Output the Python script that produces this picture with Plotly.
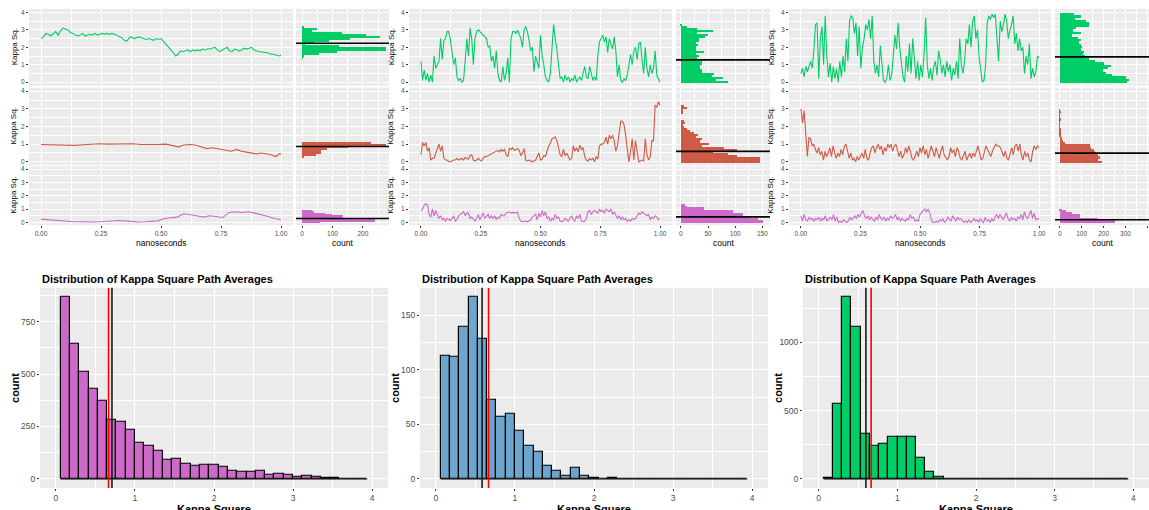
import numpy as np
import plotly.graph_objects as go

W, H = 1149, 510

# ------------------------------------------------------------------ data
# time series (kappa^2 along three paths, per column), evenly sampled over 0..1 ns
c1_green = [2.5, 2.6, 2.8, 2.75, 2.65, 2.8, 2.9, 2.7, 2.95, 3.1, 3.05, 3.0, 2.85, 2.8, 2.7, 2.65, 2.7, 2.8, 2.65, 2.7,
            2.75, 2.7, 2.8, 2.7, 2.75, 2.8, 2.75, 2.8, 2.75, 2.8, 2.75, 2.7, 2.6, 2.55, 2.4, 2.35, 2.55, 2.6, 2.5, 2.55,
            2.6, 2.55, 2.5, 2.45, 2.5, 2.45, 2.4, 2.5, 2.45, 2.5, 2.35, 2.15, 2.0, 1.9, 1.7, 1.5, 1.6, 1.8, 1.75, 1.8,
            1.85, 1.75, 1.85, 1.8, 1.85, 1.8, 1.9, 1.85, 1.9, 1.9, 1.95, 2.0, 1.85, 1.75, 1.85, 1.95, 2.0, 1.8, 1.75, 1.9,
            1.85, 1.8, 1.85, 1.95, 1.9, 1.95, 2.0, 1.85, 1.8, 1.75, 1.75, 1.7, 1.7, 1.65, 1.6, 1.6, 1.55, 1.5, 1.55]
c1_red_t = [0.0, 0.038, 0.073, 0.107, 0.141, 0.176, 0.21, 0.245, 0.279, 0.313, 0.348, 0.382, 0.416, 0.451, 0.485,
            0.519, 0.554, 0.574, 0.595, 0.622, 0.643, 0.67, 0.691, 0.712, 0.732, 0.753, 0.773, 0.794, 0.815, 0.835,
            0.856, 0.876, 0.897, 0.918, 0.938, 0.959, 0.979, 0.993, 1.0]
c1_red = [0.98, 0.97, 0.95, 0.98, 0.93, 0.97, 1.0, 1.02, 1.0, 1.02, 1.0, 1.02, 0.98, 0.97, 0.98, 1.0, 0.9, 0.85, 0.95,
          0.98, 0.95, 0.85, 0.75, 0.8, 0.75, 0.7, 0.65, 0.6, 0.7, 0.6, 0.55, 0.5, 0.45, 0.5, 0.45, 0.4, 0.3, 0.45, 0.45]
c1_magenta = [0.25, 0.2, 0.15, 0.1, 0.08, 0.05, 0.05, 0.03, 0.03, 0.05, 0.08, 0.15, 0.15, 0.12, 0.05, 0.03, 0.05, 0.1,
              0.12, 0.3, 0.35, 0.4, 0.65, 0.6, 0.5, 0.4, 0.5, 0.45, 0.35, 0.75, 0.8, 0.75, 0.8, 0.7, 0.6, 0.45, 0.3, 0.2]

c2_green = [1.2, 0.1, 0.7, 0.1, 0.5, 0.0, 0.4, 0.0, 1.5, 0.8, 1.0, 1.2, 2.5, 1.3, 2.4, 2.5, 2.9, 2.9, 2.4, 1.5, 1.0,
            1.4, 0.3, 0.1, 0.2, 0.0, 0.1, 1.2, 2.5, 1.5, 3.1, 2.5, 1.0, 2.5, 2.9, 3.0, 2.9, 2.8, 2.7, 2.6, 2.5, 2.0,
            2.1, 1.2, 1.5, 0.8, 1.8, 0.5, 0.1, 0.0, 0.9, 0.1, 0.5, 1.4, 0.0, 2.5, 2.9, 2.9, 2.8, 3.0, 2.8, 2.5, 2.0,
            3.0, 3.2, 2.9, 2.4, 1.8, 2.0, 0.6, 1.5, 1.2, 0.8, 2.7, 1.5, 1.0, 0.3, 0.1, 0.0, 0.5, 2.0, 3.3, 2.5, 1.9,
            1.0, 0.2, 0.3, 0.0, 0.4, 0.1, 0.3, 0.0, 0.2, 0.1, 0.4, 0.0, 0.2, 0.3, 0.1, 0.6, 0.9, 0.3, 0.2, 0.9, 0.4,
            0.1, 0.3, 0.1, 1.5, 2.3, 2.5, 2.7, 2.3, 2.6, 1.7, 2.5, 2.2, 1.9, 2.6, 1.8, 0.3, 1.0, 0.1, 0.0, 0.2, 0.1,
            0.4, 1.0, 1.6, 1.0, 1.8, 2.0, 1.3, 2.2, 2.3, 1.3, 0.5, 2.0, 0.8, 0.3, 1.0, 0.5, 0.8, 1.8, 0.4, 0.2, 0.0]
c2_red = [0.4, 1.1, 0.9, 1.1, 0.6, 0.8, 0.1, 0.2, 0.2, 0.5, 0.7, 1.0, 0.6, 0.9, 0.2, 0.1, 0.1, 0.0, 0.0, 0.05, 0.1,
          0.1, 0.2, 0.1, 0.15, 0.2, 0.1, 0.25, 0.2, 0.15, 0.35, 0.4, 0.1, 0.05, 0.1, 0.2, 0.1, 0.05, 0.2, 0.3, 0.3,
          0.35, 0.4, 0.45, 0.5, 0.55, 0.6, 0.65, 0.55, 0.7, 0.6, 0.7, 0.4, 0.3, 0.75, 0.7, 0.8, 0.65, 0.7, 0.75, 0.65,
          0.35, 0.5, 0.75, 0.1, 0.05, 0.1, 0.05, 0.0, 0.05, 0.1, 0.3, 0.5, 0.1, 0.15, 0.35, 0.3, 0.6, 0.9, 1.05, 1.3,
          1.35, 1.4, 1.2, 0.8, 0.4, 0.3, 0.7, 0.35, 0.5, 0.3, 0.1, 0.2, 0.9, 0.6, 0.8, 0.55, 0.95, 0.7, 0.8, 0.3, 0.1,
          0.05, 0.2, 0.1, 0.2, 0.0, 0.3, 0.15, 0.9, 1.0, 1.0, 1.1, 1.4, 1.0, 1.5, 1.3, 1.5, 1.2, 0.6, 0.9, 1.8, 2.3,
          2.3, 2.1, 1.5, 0.6, 0.0, 0.6, 1.3, 0.1, 1.2, 0.6, 0.0, 0.05, 0.1, 0.05, 1.3, 0.4, 0.1, 0.3, 1.2, 1.2, 3.2,
          3.1, 3.4, 3.2]
c2_magenta = [0.9, 1.0, 1.3, 1.4, 1.3, 0.6, 0.4, 1.0, 0.5, 0.9, 0.6, 0.3, 0.5, 0.2, 0.3, 0.1, 0.3, 0.2, 0.15, 0.3,
              0.5, 0.1, 0.2, 0.5, 0.6, 0.7, 0.8, 0.5, 0.7, 0.7, 0.3, 0.4, 0.2, 0.1, 0.3, 0.6, 0.2, 0.5, 0.7, 0.3, 0.5,
              0.6, 0.3, 0.5, 0.3, 0.5, 0.2, 0.4, 0.3, 0.6, 0.5, 0.5, 0.7, 0.75, 0.8, 0.7, 0.75, 0.7, 0.7, 0.75, 0.3,
              0.1, 0.05, 0.1, 0.1, 0.05, 0.1, 0.2, 0.4, 0.5, 0.6, 0.2, 0.7, 0.4, 0.9, 0.5, 0.8, 0.3, 0.4, 0.1, 0.3,
              0.2, 0.6, 0.3, 0.4, 0.1, 0.05, 0.1, 0.3, 0.2, 0.1, 0.3, 0.5, 0.2, 0.1, 0.5, 0.3, 0.6, 0.1, 0.05, 0.1,
              0.3, 0.8, 0.9, 0.6, 0.8, 0.9, 0.8, 0.7, 1.0, 0.8, 0.9, 0.7, 1.0, 0.9, 0.8, 1.0, 0.6, 0.8, 0.5, 0.3, 0.5,
              0.2, 0.4, 0.2, 0.3, 0.1, 0.2, 0.1, 0.3, 0.2, 0.3, 0.5, 0.7, 0.6, 0.8, 0.7, 0.6, 0.5, 0.6, 0.2, 0.4, 0.3,
              0.5, 0.4, 0.2, 0.3]

c3_green = [0.5, 0.8, 0.3, 0.9, 0.6, 0.9, 1.2, 0.8, 1.8, 3.3, 3.4, 0.2, 2.5, 3.2, 1.0, 3.8, 1.5, 0.3, 1.1, 0.0, 0.9,
            0.2, 0.8, 0.0, 1.2, 0.3, 1.5, 0.6, 2.5, 1.2, 3.5, 3.8, 3.7, 2.8, 3.4, 1.5, 3.2, 0.8, 2.0, 2.5, 3.3, 3.0,
            3.6, 2.5, 3.8, 1.2, 0.5, 1.0, 0.3, 2.1, 0.8, 0.1, 0.0, 0.2, 1.0, 0.1, 0.4, 1.5, 2.7, 1.9, 3.4, 2.0, 1.0,
            0.3, 0.0, 1.5, 0.6, 2.2, 0.5, 2.5, 1.4, 0.2, 1.2, 0.1, 1.0, 0.3, 1.6, 3.7, 1.0, 0.2, 0.8, 0.1, 0.9, 1.2,
            0.4, 1.8, 1.3, 0.5, 1.0, 0.3, 1.2, 0.6, 1.0, 0.1, 0.8, 0.4, 1.2, 0.2, 2.5, 1.0, 0.5, 1.2, 2.5, 2.2, 3.3,
            2.0, 3.5, 3.8, 2.5, 3.0, 1.4, 0.8, 0.0, 0.1, 1.0, 3.4, 3.8, 3.6, 3.9, 3.7, 3.9, 2.5, 1.2, 3.5, 2.9, 3.3,
            3.9, 3.5, 2.5, 3.0, 3.3, 3.8, 2.2, 2.8, 1.8, 2.5, 1.8, 2.0, 0.5, 1.5, 1.0, 2.2, 0.2, 0.8, 0.3, 0.6, 1.5,
            1.4]
c3_red = [3.0, 2.2, 2.9, 1.5, 0.3, 1.4, 1.3, 0.9, 1.0, 0.7, 0.5, 0.8, 0.4, 0.6, 0.1, 0.6, 0.3, 0.5, 0.8, 0.3, 0.9,
          0.5, 0.2, 0.5, 0.3, 0.7, 0.4, 0.9, 1.0, 0.6, 0.2, 0.5, 0.1, 0.2, 0.0, 0.3, 0.1, 0.3, 0.5, 0.2, 0.7, 0.2,
          0.1, 0.5, 0.8, 0.9, 0.5, 0.8, 1.0, 0.7, 0.9, 0.4, 0.8, 0.6, 1.0, 0.8, 1.0, 0.6, 0.9, 1.0, 0.7, 0.3, 0.6,
          0.2, 0.4, 0.8, 0.5, 0.9, 0.6, 0.2, 0.1, 0.3, 0.6, 0.3, 0.8, 0.5, 0.9, 0.4, 0.7, 0.2, 0.6, 0.9, 0.6, 0.3,
          0.8, 0.5, 0.2, 0.6, 0.9, 0.4, 0.2, 0.1, 0.3, 0.8, 0.5, 0.7, 0.3, 0.8, 0.6, 0.2, 0.1, 0.3, 0.6, 0.1, 0.3,
          0.5, 0.2, 0.5, 0.3, 0.6, 0.9, 0.5, 0.1, 0.2, 0.6, 0.9, 0.7, 0.5, 0.3, 0.6, 0.8, 1.0, 0.9, 0.9, 0.8, 0.5,
          0.3, 0.6, 0.2, 0.1, 0.5, 0.8, 0.4, 0.9, 1.0, 0.6, 1.0, 0.4, 0.1, 0.6, 0.3, 0.5, 0.1, 0.0, 0.6, 0.9, 0.7,
          0.9, 0.8]
c3_magenta = [0.5, 0.1, 0.6, 0.2, 0.1, 0.4, 0.2, 0.3, 0.1, 0.3, 0.2, 0.4, 0.1, 0.3, 0.2, 0.5, 0.1, 0.3, 0.4, 0.2,
              0.6, 0.1, 0.4, 0.0, 0.1, 0.0, 0.2, 0.1, 0.0, 0.1, 0.4, 0.2, 0.3, 0.5, 0.3, 0.6, 0.4, 0.7, 0.9, 0.5,
              0.3, 0.5, 0.2, 0.4, 0.2, 0.1, 0.4, 0.2, 0.6, 0.3, 0.2, 0.4, 0.1, 0.3, 0.2, 0.5, 0.3, 0.4, 0.6, 0.2,
              0.4, 0.1, 0.3, 0.2, 0.1, 0.3, 0.2, 0.6, 0.3, 0.4, 0.1, 0.2, 0.1, 0.6, 0.8, 0.9, 1.0, 0.8, 1.0, 0.7,
              0.2, 0.0, 0.0, 0.1, 0.0, 0.2, 0.1, 0.3, 0.0, 0.1, 0.4, 0.2, 0.1, 0.5, 0.3, 0.1, 0.4, 0.2, 0.3, 0.1,
              0.0, 0.1, 0.0, 0.2, 0.0, 0.1, 0.3, 0.1, 0.2, 0.0, 0.3, 0.1, 0.0, 0.4, 0.1, 0.2, 0.0, 0.3, 0.1, 0.4,
              0.6, 0.3, 0.6, 0.4, 0.2, 0.5, 0.7, 0.3, 0.1, 0.4, 0.2, 0.3, 0.1, 0.4, 0.3, 0.6, 0.2, 0.8, 0.4, 0.3,
              0.6, 0.9, 0.3, 0.7, 0.2, 0.3, 0.2]

# marginal histograms: 30 shared bins per column, centres from lo to hi (bottom -> top)
marg_bin_lo = [0.0, 0.0, 0.0]
marg_bin_hi = [3.16, 3.4, 3.9]
c1_green_counts = [0, 0, 0, 0, 0, 0, 0, 0, 0, 0, 0, 0, 0, 3, 7, 57, 115, 276, 276, 120,
                   10, 40, 88, 158, 255, 210, 130, 34, 48, 7]
c1_red_counts = [0, 0, 0, 7, 45, 63, 61, 82, 150, 275, 227, 0, 0, 0, 0, 0, 0, 0, 0, 0,
                 0, 0, 0, 0, 0, 0, 0, 0, 0, 0]
c1_magenta_counts = [60, 240, 240, 130, 136, 100, 77, 40, 34, 0, 0, 0, 0, 0, 0, 0, 0, 0, 0, 0,
                     0, 0, 0, 0, 0, 0, 0, 0, 0, 0]
c2_green_counts = [86, 64, 77, 58, 61, 39, 38, 36, 36, 38, 38, 30, 30, 33, 27, 42, 27, 28, 32, 28,
                   33, 34, 44, 50, 30, 60, 30, 11, 2, 0]
c2_red_counts = [145, 145, 145, 104, 86, 60, 104, 80, 39, 52, 36, 38, 27, 31, 24, 17, 11, 5, 4, 8,
                 5, 0, 0, 0, 4, 4, 11, 5, 0, 0]
c2_magenta_counts = [151, 151, 142, 125, 114, 114, 95, 95, 42, 42, 11, 8, 0, 0, 0, 0, 0, 0, 0, 0,
                     0, 0, 0, 0, 0, 0, 0, 0, 0, 0]
c3_green_counts = [308, 317, 300, 240, 210, 197, 220, 235, 200, 160, 135, 115, 105, 110, 95, 100, 95, 89, 95, 85,
                   55, 95, 60, 75, 135, 132, 120, 70, 95, 66]
c3_red_counts = [194, 174, 182, 174, 160, 158, 143, 138, 25, 15, 12, 8, 3, 2, 2, 1, 1, 1, 2, 1,
                 1, 2, 1, 0, 0, 0, 0, 0, 0, 0]
c3_magenta_counts = [250, 250, 174, 92, 92, 55, 28, 9, 0, 0, 0, 0, 0, 0, 0, 0, 0, 0, 0, 0,
                     0, 0, 0, 0, 0, 0, 0, 0, 0, 0]
# path means (black lines in marginals)
c1_means = [2.23, 0.87, 0.30]
c2_means = [1.28, 0.59, 0.42]
c3_means = [1.45, 0.49, 0.20]

# distribution of path averages: 33 shared bins between edges lo..hi
hist_edge_lo = 0.0625
hist_edge_hi = 3.9375
hist1_counts = [867, 645, 509, 431, 371, 280, 272, 234, 174, 156, 133, 90, 95, 73, 62, 66, 66, 60, 41, 33,
                33, 38, 21, 24, 20, 10, 13, 10, 6, 3, 2, 1, 0]
hist2_counts = [113, 112, 140, 167, 129, 73, 57, 60, 44, 30, 25, 12, 7, 3, 10, 3, 1, 0, 1, 0,
                0, 0, 0, 0, 0, 0, 0, 0, 0, 0, 0, 0, 0]
hist3_counts = [5, 552, 1333, 1117, 333, 246, 255, 307, 311, 307, 156, 51, 19, 2, 0, 0, 0, 0, 0, 0,
                0, 0, 0, 0, 0, 0, 0, 0, 0, 0, 0, 0, 0]
hist_means = [0.71, 0.585, 0.60]
isotropic_kappa2 = 2.0 / 3.0

# ------------------------------------------------------------------ style / layout
GREEN, RED, MAG, BLUE = "#00CD66", "#CD5B45", "#CD69C9", "#6CA6CD"
FONT = "Liberation Sans, Arial, sans-serif"
TICKC = "#4D4D4D"

cols_ts = [(29, 293), (409, 672), (789, 1051)]
cols_mg = [(296, 389), (676, 770), (1055, 1149)]
rows_px = [(8, 85), (87, 165), (166, 225)]
mg_ranges = [[-20, 286], [-9, 164], [-21.6, 407]]
mg_dticks = [100, 50, 100]
hist_x_px = [(40, 388), (420, 768), (803, 1149)]
hist_y_px = (288, 489)
ytitle_x = [14, 391, 771]

fig = go.Figure()
layout = dict(width=W, height=H, margin=dict(l=0, r=0, t=0, b=0), paper_bgcolor="white",
              plot_bgcolor="#EBEBEB", showlegend=False, font=dict(family=FONT, color="black"),
              bargap=0, annotations=[], shapes=[])

counter = [0]


def px_x(a, b):
    return [a / W, b / W]


def px_y(a, b):
    return [1 - b / H, 1 - a / H]


def note(text, xpx, ypx, size, angle=0, xanchor="center", yanchor="middle"):
    layout["annotations"].append(dict(text=text, x=xpx / W, y=1 - ypx / H, xref="paper", yref="paper",
                                      showarrow=False, textangle=angle, xanchor=xanchor, yanchor=yanchor,
                                      font=dict(size=size, family=FONT, color="black")))


def new_axes(xd, yd, xr, yr, xdt, ydt, show_x, show_y, tfs, xminor, yminor, xfmt="", tlen=2.5):
    counter[0] += 1
    n = counter[0]
    s = "" if n == 1 else str(n)
    common = dict(showgrid=True, gridcolor="white", gridwidth=1.1, zeroline=False, showline=False,
                  tickfont=dict(size=tfs, color=TICKC, family=FONT), tickcolor="#333333",
                  ticklen=tlen, tickwidth=1, fixedrange=True)
    layout["xaxis" + s] = dict(common, domain=px_x(*xd), range=xr, anchor="y" + s, tickmode="linear",
                               tick0=0, dtick=xdt, showticklabels=show_x, tickformat=xfmt,
                               ticks="outside" if show_x else "",
                               minor=dict(tickmode="linear", tick0=0, dtick=xminor, showgrid=True,
                                          gridcolor="white", gridwidth=0.5, ticks=""))
    layout["yaxis" + s] = dict(common, domain=px_y(*yd), range=yr, anchor="x" + s, tickmode="linear",
                               tick0=0, dtick=ydt, showticklabels=show_y,
                               ticks="outside" if show_y else "",
                               minor=dict(tickmode="linear", tick0=0, dtick=yminor, showgrid=True,
                                          gridcolor="white", gridwidth=0.5, ticks=""))
    return "x" + s, "y" + s


series = [
    [(None, c1_green), (c1_red_t, c1_red), (None, c1_magenta)],
    [(None, c2_green), (None, c2_red), (None, c2_magenta)],
    [(None, c3_green), (None, c3_red), (None, c3_magenta)],
]
margs = [
    [c1_green_counts, c1_red_counts, c1_magenta_counts],
    [c2_green_counts, c2_red_counts, c2_magenta_counts],
    [c3_green_counts, c3_red_counts, c3_magenta_counts],
]
means = [c1_means, c2_means, c3_means]
line_cols = [GREEN, RED, MAG]

for c in range(3):
    nb = len(margs[c][0])
    centres = np.linspace(marg_bin_lo[c], marg_bin_hi[c], nb)
    bw = (marg_bin_hi[c] - marg_bin_lo[c]) / (nb - 1)
    for r in range(3):
        last = r == 2
        xa, ya = new_axes(cols_ts[c], rows_px[r], [-0.05, 1.05], [-0.2, 4.2], 0.25, 1,
                          last, True, 6.5, 0.125, 0.5, xfmt=".2f", tlen=2)
        tvals, vals = series[c][r]
        if tvals is None:
            tvals = np.linspace(0, 1, len(vals))
        fig.add_trace(go.Scatter(x=tvals, y=vals, mode="lines", xaxis=xa, yaxis=ya,
                                 line=dict(color=line_cols[r], width=1.1), hoverinfo="skip"))
        xm, ym = new_axes(cols_mg[c], rows_px[r], mg_ranges[c], [-0.2, 4.2], mg_dticks[c], 1,
                          last, False, 6.5, mg_dticks[c] / 2, 0.5, tlen=2)
        fig.add_trace(go.Bar(x=margs[c][r], y=centres, orientation="h", width=bw, xaxis=xm, yaxis=ym,
                             marker=dict(color=line_cols[r], line=dict(width=0)), hoverinfo="skip"))
        layout["shapes"].append(dict(type="line", xref=xm + " domain", yref=ym, x0=0, x1=1,
                                     y0=means[c][r], y1=means[c][r],
                                     line=dict(color="black", width=1.6), layer="above"))
        note("Kappa Sq.", ytitle_x[c], (rows_px[r][0] + rows_px[r][1]) / 2, 8, angle=-90)
    note("nanoseconds", sum(cols_ts[c]) / 2, 243, 8.5)
    note("count", sum(cols_mg[c]) / 2, 243, 8.5)

# distributions of path averages
hist_counts = [hist1_counts, hist2_counts, hist3_counts]
hist_fills = [MAG, BLUE, GREEN]
hist_dticks = [250, 50, 500]
for c in range(3):
    counts = hist_counts[c]
    nb = len(counts)
    edges = np.linspace(hist_edge_lo, hist_edge_hi, nb + 1)
    centres = (edges[:-1] + edges[1:]) / 2
    bw = edges[1] - edges[0]
    ymax = max(counts)
    xa, ya = new_axes(hist_x_px[c], hist_y_px, [-0.2, 4.2], [-0.05 * ymax, 1.05 * ymax], 1,
                      hist_dticks[c], True, True, 8.5, 0.5, hist_dticks[c] / 2, tlen=2)
    fig.add_trace(go.Scatter(x=[edges[0], edges[-1]], y=[0, 0], mode="lines", xaxis=xa, yaxis=ya,
                             line=dict(color="black", width=1.2), hoverinfo="skip"))
    fig.add_trace(go.Bar(x=centres, y=counts, width=bw, xaxis=xa, yaxis=ya,
                         marker=dict(color=hist_fills[c], line=dict(color="black", width=1.2)),
                         hoverinfo="skip"))
    layout["shapes"].append(dict(type="line", xref=xa, yref=ya + " domain", x0=hist_means[c],
                                 x1=hist_means[c], y0=0, y1=1, line=dict(color="#1a1a1a", width=1.6),
                                 layer="above"))
    layout["shapes"].append(dict(type="line", xref=xa, yref=ya + " domain", x0=isotropic_kappa2,
                                 x1=isotropic_kappa2, y0=0, y1=1, line=dict(color="red", width=1.6),
                                 layer="above"))
    note("<b>Distribution of Kappa Square Path Averages</b>", hist_x_px[c][0], 279, 11, xanchor="left")
    note("<b>count</b>", hist_x_px[c][0] - 25, sum(hist_y_px) / 2, 11, angle=-90)
    note("<b>Kappa Square</b>", sum(hist_x_px[c]) / 2, 502, 11, yanchor="top")

fig.update_layout(**layout)
fig.write_html("out.html", config={"displayModeBar": False},
               post_script="document.body.style.margin='0';document.body.style.overflow='hidden';")
